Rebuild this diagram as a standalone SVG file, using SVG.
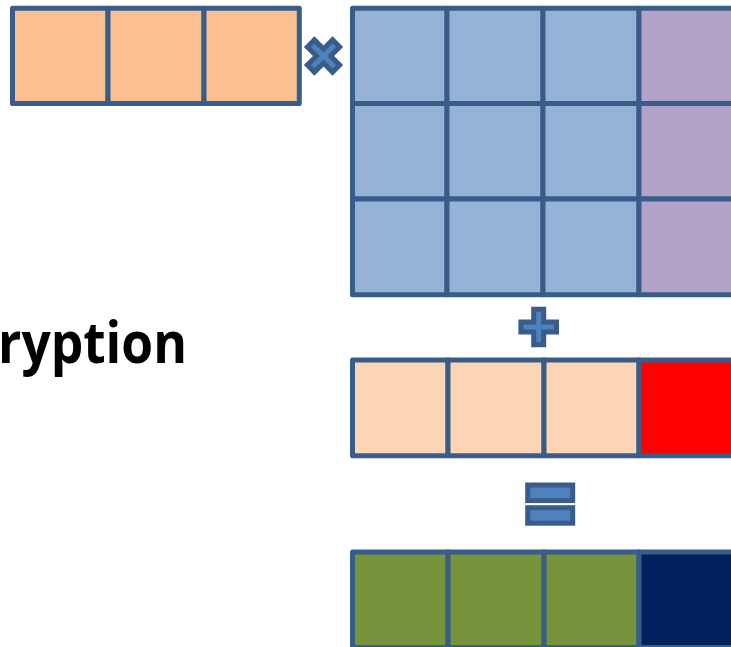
<svg xmlns="http://www.w3.org/2000/svg" width="731" height="647" viewBox="0 0 731 647">
  <defs>
    <style>
      .cell { stroke: #385D8A; stroke-width: 5; stroke-linejoin: round; }
      .peach { fill: #FAC090; }
      .blue { fill: #95B3D7; }
      .lilac { fill: #B3A2C7; }
      .pale { fill: #FCD5B5; }
      .red { fill: #FF0000; }
      .green { fill: #77933C; }
      .navy { fill: #002060; }
      .op { fill: #4F81BD; stroke: #385D8A; stroke-width: 5; stroke-linejoin: miter; }
      .label { font-family: "Open Sans", "Liberation Sans", Arial, sans-serif; font-weight: bold; font-size: 57px; fill: #000000; }
    </style>
    <!-- plus-shaped operator glyph centred on the origin -->
    <polygon id="plusShape" points="-5,-17.8 5,-17.8 5,-5 17.8,-5 17.8,5 5,5 5,17.8 -5,17.8 -5,5 -17.8,5 -17.8,-5 -5,-5"/>
  </defs>

  <rect width="731" height="647" fill="#FFFFFF"/>

  <text class="label" x="-2" y="363" textLength="189" lengthAdjust="spacingAndGlyphs">ryption</text>

  <!-- input row vector -->
  <g id="input-vector">
    <rect class="cell peach" x="12.5" y="8.2" width="95.5" height="95.3"/>
    <rect class="cell peach" x="108" y="8.2" width="96" height="95.3"/>
    <rect class="cell peach" x="204" y="8.2" width="95.3" height="95.3"/>
  </g>

  <!-- multiply operator -->
  <g id="op-multiply">
    <use href="#plusShape" class="op" transform="translate(323.5,56) rotate(45)"/>
  </g>

  <!-- key matrix -->
  <g id="key-matrix">
    <rect class="cell blue" x="352.5" y="8.2" width="94.5" height="95.3"/>
    <rect class="cell blue" x="447" y="8.2" width="96" height="95.3"/>
    <rect class="cell blue" x="543" y="8.2" width="96" height="95.3"/>
    <rect class="cell lilac" x="639" y="8.2" width="96" height="95.3"/>

    <rect class="cell blue" x="352.5" y="103.5" width="94.5" height="95.5"/>
    <rect class="cell blue" x="447" y="103.5" width="96" height="95.5"/>
    <rect class="cell blue" x="543" y="103.5" width="96" height="95.5"/>
    <rect class="cell lilac" x="639" y="103.5" width="96" height="95.5"/>

    <rect class="cell blue" x="352.5" y="199" width="94.5" height="95.8"/>
    <rect class="cell blue" x="447" y="199" width="96" height="95.8"/>
    <rect class="cell blue" x="543" y="199" width="96" height="95.8"/>
    <rect class="cell lilac" x="639" y="199" width="96" height="95.8"/>
  </g>

  <!-- plus operator -->
  <g id="op-plus">
    <use href="#plusShape" class="op" transform="translate(538.7,327)"/>
  </g>

  <!-- bias vector -->
  <g id="bias-vector">
    <rect class="cell pale" x="352.5" y="360" width="95.5" height="95.8"/>
    <rect class="cell pale" x="448" y="360" width="96" height="95.8"/>
    <rect class="cell pale" x="544" y="360" width="95" height="95.8"/>
    <rect class="cell red" x="639" y="360" width="96" height="95.8"/>
  </g>

  <!-- equals operator -->
  <g id="op-equals">
    <rect class="op" x="527.7" y="485" width="45" height="15.6"/>
    <rect class="op" x="527.7" y="507.7" width="45" height="15.5"/>
  </g>

  <!-- result vector -->
  <g id="result-vector">
    <rect class="cell green" x="352.5" y="552" width="95.5" height="95.5"/>
    <rect class="cell green" x="448" y="552" width="96" height="95.5"/>
    <rect class="cell green" x="544" y="552" width="95" height="95.5"/>
    <rect class="cell navy" x="639" y="552" width="96" height="95.5"/>
  </g>
</svg>
